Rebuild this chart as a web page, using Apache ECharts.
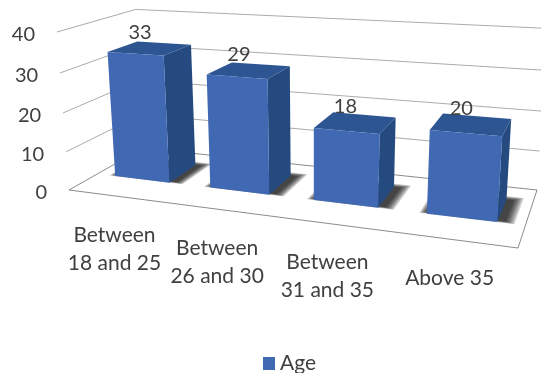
<!DOCTYPE html>
<html>
<head>
<meta charset="utf-8">
<style>html,body{margin:0;padding:0;background:#fff}#chart{width:541px;height:373px}</style>
<script src="https://cdn.jsdelivr.net/npm/echarts@6/dist/echarts.min.js"></script>
</head>
<body>
<div id="chart"></div>
<script>
// Age bands and respondent counts
const categories = ['Between\n18 and 25', 'Between\n26 and 30', 'Between\n31 and 35', 'Above 35'];
const ageValues = [33, 29, 18, 20];
const valueTicks = [0, 10, 20, 30, 40];
const seriesName = 'Age';

// Screen corners of the 3D chart box (floor, then top of the walls)
const BOX = {
  frontLeft: [69, 190], frontRight: [518, 248], backRight: [537, 190], backLeft: [143, 148],
  frontLeftTop: [57, 32], backRightTop: [548, 30]
};
const MAX_VALUE = 40;
const BAR_HALF = 0.29;            // half bar width, as a share of the category band
const BAR_SHIFT = -0.003;         // bars sit slightly left of the band centre
const DEPTH = [0.35, 0.75];       // bar footprint, front to back
const LABEL_POS = [[-1, 53], [0, 53], [-1, 53], [-1, 39]];
const SHADOW_LAYERS = 7;

const FONT = '20px Lato, "Open Sans", sans-serif';
const CAT_FONT = '21px Lato, "Open Sans", sans-serif';
const TEXT = '#404040';
const COLORS = { front: '#4169B3', side: '#254A80', top: '#2D5592', grid: '#ABABAB', floor: '#8C8C8C' };

// Square-to-quad homography for the floor, extended with a height term
function buildProjection() {
  const [x0, y0] = BOX.frontLeft, [x1, y1] = BOX.frontRight, [x2, y2] = BOX.backRight, [x3, y3] = BOX.backLeft;
  const dx1 = x1 - x2, dx2 = x3 - x2, dy1 = y1 - y2, dy2 = y3 - y2;
  const sx = x0 - x1 + x2 - x3, sy = y0 - y1 + y2 - y3;
  const det = dx1 * dy2 - dx2 * dy1;
  const g = (sx * dy2 - dx2 * sy) / det, h = (dx1 * sy - sx * dy1) / det;
  const a = x1 - x0 + g * x1, b = x3 - x0 + h * x3, c = x0;
  const d = y1 - y0 + g * y1, e = y3 - y0 + h * y3, f = y0;
  // Height terms solved from the two known wall-top corners
  const W1 = 1, W2 = g + h + 1, X1 = c, X2 = a + b + c, Y1 = f;
  const [tx1, ty1] = BOX.frontLeftTop, [tx2] = BOX.backRightTop;
  const r = ((X2 - tx2 * W2) - (X1 - tx1 * W1)) / (tx2 - tx1);
  const p = tx1 * (W1 + r) - X1;
  const q = ty1 * (W1 + r) - Y1;
  return (u, v, t) => {
    const w = g * u + h * v + 1 + r * t;
    return [(a * u + b * v + c + p * t) / w, (d * u + e * v + f + q * t) / w];
  };
}
const project = buildProjection();

const poly = (points, style) => ({ type: 'polygon', shape: { points }, style });

function renderFrame(params, api) {
  const cs = params.coordSys;
  const t = (cs.y + cs.height - api.coord([0, api.value(0)])[1]) / cs.height;
  const children = [];
  if (t === 0) {
    children.push({
      type: 'polygon',
      shape: { points: [project(0, 0, 0), project(1, 0, 0), project(1, 1, 0), project(0, 1, 0)] },
      style: { fill: '#fff', stroke: COLORS.floor, lineWidth: 1 }
    });
  } else {
    children.push({
      type: 'polyline', shape: { points: [project(0, 0, t), project(0, 1, t), project(1, 1, t)] },
      style: { fill: 'none', stroke: COLORS.grid, lineWidth: 1 }
    });
  }
  const at = project(0, 0, t);
  children.push({
    type: 'text',
    style: { x: at[0] - 22, y: at[1] + 3, text: String(api.value(0)), align: 'right', verticalAlign: 'middle', font: FONT, fill: TEXT }
  });
  return { type: 'group', children };
}

function renderBar(params, api) {
  const cs = params.coordSys;
  const i = api.value(0), val = api.value(1);
  const top = api.coord([i, val]);
  const band = api.size([1, 0])[0];
  const toU = px => (px - cs.x) / cs.width + BAR_SHIFT;
  const uc = toU(top[0]);
  const u0 = toU(top[0] - band * BAR_HALF), u1 = toU(top[0] + band * BAR_HALF);
  const t = (cs.y + cs.height - top[1]) / cs.height;
  const [d0, d1] = DEPTH;
  const P = project;
  const labelAt = P(uc, (d0 + d1) / 2, t);
  const baseAt = P(uc, 0, 0);
  const off = LABEL_POS[i];

  // Soft contact shadow: nested floor polygons fading outwards, heavier to the right
  const shadow = [];
  for (let k = 0; k < SHADOW_LAYERS; k++) {
    const s = 1 - k / SHADOW_LAYERS;
    const l = u0 - 0.016 * s, r = u1 + 0.012 + 0.022 * s;
    const f = d0 + 0.03 - 0.03 * s, b = d1 + 0.07 * s;
    shadow.push(poly([P(l, f, 0), P(r, f, 0), P(r, b, 0), P(l, b, 0)], { fill: 'rgba(0,0,0,0.17)' }));
  }

  return {
    type: 'group',
    children: shadow.concat([
      poly([P(u1, d0, 0), P(u1, d1, 0), P(u1, d1, t), P(u1, d0, t)], { fill: COLORS.side }),
      poly([P(u0, d0, t), P(u1, d0, t), P(u1, d1, t), P(u0, d1, t)], { fill: COLORS.top }),
      poly([P(u0, d0, 0), P(u1, d0, 0), P(u1, d0, t), P(u0, d0, t)], { fill: COLORS.front }),
      {
        type: 'text',
        style: { x: labelAt[0] - 10, y: labelAt[1] - 16, text: String(val), align: 'center', verticalAlign: 'middle', font: FONT, fill: TEXT }
      },
      {
        type: 'text',
        style: {
          x: baseAt[0] + off[0], y: baseAt[1] + off[1], text: categories[i], align: 'center', verticalAlign: 'middle',
          font: CAT_FONT, lineHeight: 28, fill: TEXT
        }
      }
    ])
  };
}

const chart = echarts.init(document.getElementById('chart'), null, { renderer: 'canvas' });
chart.setOption({
  animation: false,
  backgroundColor: '#fff',
  grid: { left: 0, right: 0, top: 0, bottom: 0 },
  xAxis: { type: 'category', data: categories, show: false },
  yAxis: { type: 'value', min: 0, max: MAX_VALUE, interval: 10, show: false },
  legend: {
    data: [seriesName], left: 258, top: 348, itemWidth: 12, itemHeight: 13, itemGap: 6,
    icon: 'rect', textStyle: { fontSize: 21, fontFamily: 'Lato', color: TEXT }
  },
  series: [
    {
      type: 'custom', name: 'Scale', silent: true, clip: false,
      data: valueTicks.map(v => [v]),
      encode: { y: 0 }, renderItem: renderFrame
    },
    {
      type: 'custom', name: seriesName, clip: false,
      itemStyle: { color: COLORS.front },
      data: ageValues.map((v, i) => [i, v]),
      encode: { x: 0, y: 1 }, renderItem: renderBar
    }
  ]
});
</script>
</body>
</html>
